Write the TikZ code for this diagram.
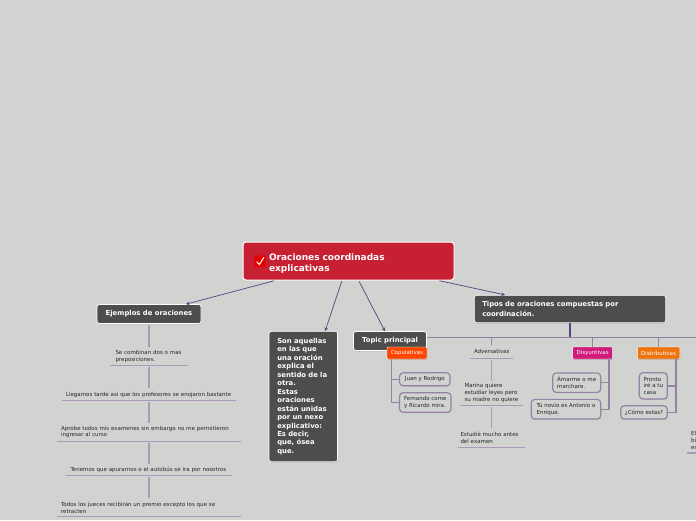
\documentclass[tikz,border=0pt]{standalone}
\usepackage{fontspec}
\setmainfont{DejaVu Sans}
\usepackage{tikz}
\usetikzlibrary{arrows.meta,shadows}
\definecolor{bgmap}{HTML}{D1D3D0}
\definecolor{rootred}{HTML}{C82033}
\definecolor{topicgray}{HTML}{4D4D4B}
\definecolor{linkpurple}{HTML}{5E3F7E}
\definecolor{linelilac}{HTML}{AC98BA}
\definecolor{subline}{HTML}{9583A5}
\definecolor{orangered}{HTML}{FF4500}
\definecolor{magentapink}{HTML}{D01A7C}
\definecolor{darkorange}{HTML}{EE7410}
\tikzset{
  softshadow/.style={drop shadow={opacity=0.35,shadow xshift=0.4pt,shadow yshift=-0.8pt}},
  rootbox/.style={draw=white,line width=1pt,fill=rootred,rounded corners=3pt,text=white,font=\fontsize{9}{11}\selectfont\bfseries,align=left,inner ysep=0pt},
  topicbox/.style={draw=white,line width=0.7pt,fill=topicgray,rounded corners=2.5pt,text=white,font=\fontsize{6.85}{8.46}\selectfont\bfseries,align=left,inner sep=0pt,softshadow},
  oneline/.style={text height=5pt,text depth=1.5pt},
  tagbox/.style={draw=white,line width=0.4pt,rounded corners=1pt,text=white,font=\fontsize{5.5}{7}\selectfont,minimum height=12pt,inner sep=0pt,softshadow},
  notebox/.style={draw=subline,line width=1.2pt,fill=bgmap,rounded corners=3.5pt,text=black!85,font=\fontsize{5.5}{6.8}\selectfont,align=left,inner sep=0pt,softshadow},
  undernode/.style={text=black!85,font=\fontsize{5.5}{6.8}\selectfont,align=left,inner ysep=0pt,inner xsep=4pt},
  arrowlink/.style={draw=linkpurple,line width=0.7pt,shorten <=1pt,-{Stealth[length=3.5pt,width=3.5pt]}},
  stemlink/.style={draw=linelilac,line width=1.3pt},
  sublink/.style={draw=subline,line width=1.2pt},
}
\begin{document}
\begin{tikzpicture}[x=1pt,y=-1pt]
  % Fondo
  \fill[bgmap] (0,0) rectangle (696,520);
  \useasboundingbox (0,0) rectangle (696,520);

  % Nodo central
  \node[rootbox,text width=159pt,inner xsep=26pt,minimum height=38pt] (root) at (348.5,261) {\rule{0pt}{11pt}Oraciones coordinadas\\explicativas};
  \node[fill=red!90!black,rounded corners=1.5pt,minimum size=11.5pt,inner sep=0pt] (check) at (260,261.3) {};
  \draw[white,line width=1pt] (256.7,261.7) -- (259.3,264.5) -- (264,257.3);

  % Ramas principales
  \node[topicbox,oneline,minimum width=104pt,minimum height=19pt] (ejemplos) at (149,314) {Ejemplos de oraciones};
  \node[topicbox,text width=52pt,inner xsep=8.25pt,minimum height=130.5pt] (aquellas) at (303.3,396.5) {Son aquellas\\en las que\\una oración\\explica el\\sentido de la\\otra.\\Estas\\oraciones\\están unidas\\por un nexo\\explicativo:\\Es decir,\\que, ósea\\que.};
  \node[topicbox,oneline,minimum width=73pt,minimum height=19pt] (topic) at (390,341) {Topic principal};
  \node[topicbox,font=\fontsize{6.85}{9.6}\selectfont\bfseries,text width=175.5pt,inner xsep=8pt,minimum height=27.5pt] (tipos) at (570,309) {Tipos de oraciones compuestas por\\coordinación.};

  \foreach \n in {ejemplos,aquellas,topic,tipos}
    \draw[arrowlink] (root) -- (\n);

  % Ejemplos
  \node[undernode,text width=67pt,inner xsep=5pt,minimum height=18pt] (ej1) at (149,356.5) {Se combinan dos o mas\\preposiciones.};
  \node[undernode,text width=166pt,minimum height=12pt] (ej2) at (149,394.5) {Llegamos tarde así que los profesores se enojaron bastante};
  \node[undernode,text width=176pt,minimum height=18pt] (ej3) at (149,432) {Aprobe todos mis examenes sin embargo no me permitieron\\ingresar al curso};
  \node[undernode,text width=157pt,minimum height=11.5pt] (ej4) at (149,469.75) {Tenemos que apurarnos o el autobús se ira por nosotros};
  \node[undernode,text width=176pt,minimum height=18pt] (ej5) at (149,507.5) {Todos los jueces recibirán un premio excepto los que se\\retracten};
  \foreach \a/\b in {ejemplos/ej1,ej1/ej2,ej2/ej3,ej3/ej4,ej4/ej5}
    \draw[stemlink,shorten <=1.5pt] (\a.south) -- (\b.north);

  % Tipos de oraciones
  \coordinate (busa) at (427,337.4);
  \coordinate (busb) at (696,337.4);
  \draw[sublink] (busa) -- (busb);
  \draw[linkpurple,line width=1.1pt] (tipos.south) -- (tipos.south |- busa);

  \node[undernode,text width=35pt,minimum height=13.5pt] (adv) at (491.5,351.75) {Adversativas};
  \node[undernode,text width=54pt,minimum height=24.5pt] (marina) at (491.5,393.25) {Marina quiere\\estudiar leyes pero\\su madre no quiere};
  \node[undernode,text width=62pt,inner xsep=2pt,minimum height=19pt] (estudie) at (491.5,437.5) {Estudié mucho antes\\del examen};
  \foreach \a/\b in {adv/marina,marina/estudie}
    \draw[stemlink,shorten <=1pt] (\a.south) -- (\b.north);
  \foreach \n in {ej1,ej2,ej3,ej4,ej5,adv,marina,estudie}
    \draw[stemlink] (\n.south west) -- (\n.south east);

  \node[tagbox,fill=magentapink,minimum width=40pt] (disy) at (592.6,353) {Disyuntivas};
  \node[tagbox,fill=darkorange,minimum width=42.5pt] (dist) at (658.6,353) {Distributivas};
  \foreach \n in {adv,disy,dist}
    \draw[sublink] (\n.north) -- (\n.north |- busa);

  % Topic principal
  \coordinate (copua) at (391.5,358);
  \coordinate (disya) at (609,358);
  \coordinate (dista) at (676,358);
  \node[notebox,minimum width=50.5pt,minimum height=13pt] (juan) at (424.8,379.3) {Juan y Rodrigo};
  \node[notebox,minimum width=51.5pt,minimum height=19.5pt] (fernando) at (425.3,402.5) {Fernando come\\y Ricardo mira.};
  \node[notebox,minimum width=48pt,minimum height=19.3pt] (amarme) at (576.7,382.7) {Ámarme o me\\marchare.};
  \node[notebox,minimum width=69.5pt,minimum height=19.7pt] (novio) at (566,409.2) {Tú novio es Antonio o\\Enrique.};
  \node[notebox,minimum width=28pt,minimum height=26.3pt] (pronto) at (653.3,385.9) {Pronto\\iré a tu\\casa};
  \node[notebox,minimum width=46.5pt,minimum height=13.3pt] (como) at (644,412.4) {¿Cómo estas?};
  \foreach \a/\b in {copua/juan,copua/fernando}
    \draw[sublink] (\a) |- (\b.west);
  \foreach \a/\b in {disya/amarme,disya/novio,dista/pronto,dista/como}
    \draw[sublink] (\a) |- (\b.east);
  \node[tagbox,fill=orangered,minimum width=40pt] (copu) at (407,353) {Copulativas};

  % Recorte derecho
  \node[undernode,anchor=west,inner xsep=0pt] (recorte) at (691,440.5) {El\\bi\\es};
  \coordinate (recb) at (687,453);
  \coordinate (recc) at (696,453);
  \draw[stemlink] (recb) -- (recc);
\end{tikzpicture}
\end{document}
